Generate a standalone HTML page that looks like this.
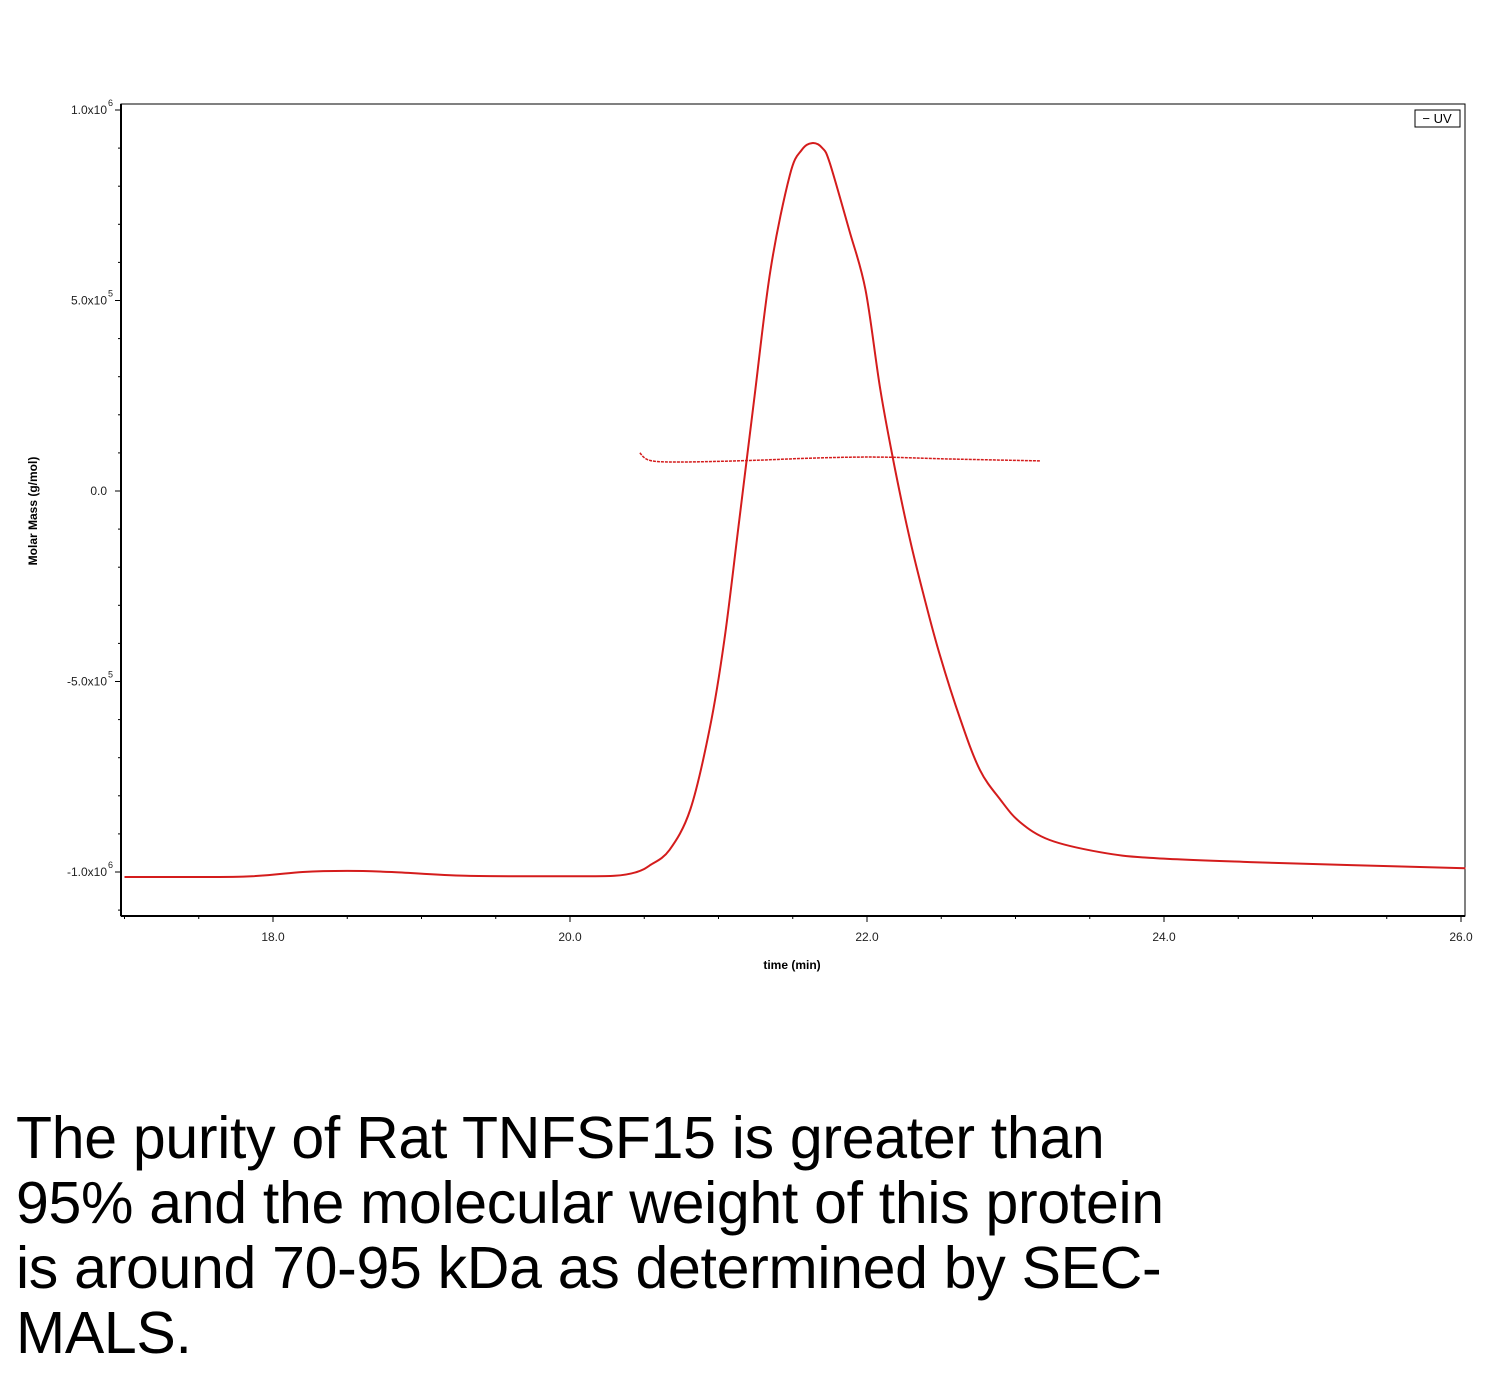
<!DOCTYPE html>
<html><head><meta charset="utf-8"><style>
body{margin:0;background:#fff;width:1500px;height:1384px;overflow:hidden;position:relative;font-family:"Liberation Sans",sans-serif}
#cap{position:absolute;left:16px;top:1106px;font-size:59px;line-height:65px;white-space:nowrap;color:#000;letter-spacing:-0.3px}
</style></head><body>
<svg id="chart" width="1500" height="1000" style="position:absolute;left:0;top:0">
<g id="axes"></g><g id="series"></g>
<rect x="1415" y="110" width="45" height="17" fill="#fff" stroke="#000" stroke-width="1"/>
<text x="1437" y="123" font-size="13" text-anchor="middle">− UV</text>
<text x="792" y="969" font-size="12" font-weight="bold" text-anchor="middle">time (min)</text>
<text transform="translate(37,511) rotate(-90)" font-size="12" font-weight="bold" text-anchor="middle">Molar Mass (g/mol)</text>
</svg>
<div id="cap">The purity of Rat TNFSF15 is greater than<br>95% and the molecular weight of this protein<br>is around 70-95 kDa as determined by SEC-<br>MALS.</div>
<script>
const xTicks=[18,20,22,24,26];
const xTickLabels=["18.0","20.0","22.0","24.0","26.0"];
const yTicks=[1,0.5,0,-0.5,-1];
const yTickLabels=["1.0x10","5.0x10","0.0","-5.0x10","-1.0x10"];
const yTickExp=["6","5","","5","6"];
const uvTime=[17.0,17.8,18.2,18.5,18.8,19.3,20.0,20.3,20.45,20.54,20.67,20.81,20.94,21.04,21.14,21.24,21.35,21.48,21.56,21.63,21.70,21.75,21.88,21.99,22.09,22.19,22.29,22.39,22.49,22.63,22.76,22.90,23.03,23.23,23.57,23.91,24.58,25.26,26.03];
const uvValue=[-1.013,-1.012,-1.0,-0.997,-1.0,-1.01,-1.011,-1.01,-1.0,-0.982,-0.942,-0.836,-0.625,-0.39,-0.076,0.239,0.58,0.829,0.895,0.913,0.9,0.86,0.685,0.528,0.265,0.055,-0.129,-0.286,-0.43,-0.601,-0.732,-0.811,-0.869,-0.916,-0.948,-0.963,-0.974,-0.982,-0.99];
const mmTime=[20.47,20.54,20.74,21.21,21.68,22.09,22.56,23.17];
const mmValue=[0.1,0.08,0.076,0.08,0.087,0.089,0.084,0.079];
const NS="http://www.w3.org/2000/svg";
const L=121,R=1465,T=104,B=916;
const xs=t=>273+(t-18)*148.5;
const ys=v=>491-v*381;
function mk(tag,attrs,parent){const e=document.createElementNS(NS,tag);for(const k in attrs)e.setAttribute(k,attrs[k]);parent.appendChild(e);return e;}
const ax=document.getElementById('axes'),se=document.getElementById('series');
const frame=mk('rect',{x:L,y:T,width:R-L,height:B-T,fill:'none',stroke:'#000','stroke-width':1},ax);


mk('line',{x1:L,y1:T,x2:L,y2:B,stroke:'#000','stroke-width':2},ax);
mk('line',{x1:L,y1:B,x2:R,y2:B,stroke:'#000','stroke-width':2},ax);
for(let t=17;t<=26.01;t+=0.5){const x=xs(t);const maj=Math.abs(t-Math.round(t/2)*2)<1e-6;mk('line',{x1:x,y1:B,x2:x,y2:B+(maj?6:3),stroke:'#000'},ax);}
xTicks.forEach((t,i)=>{const e=mk('text',{x:xs(t),y:B+25,'font-size':12,'text-anchor':'middle',fill:'#222'},ax);e.textContent=xTickLabels[i];

});
for(let v=-1.1;v<=1.001;v+=0.1){const y=ys(v);const maj=Math.abs(v*2-Math.round(v*2))<1e-6;mk('line',{x1:L-(maj?6:3),y1:y,x2:L,y2:y,stroke:'#000'},ax);}
yTicks.forEach((v,i)=>{const e=mk('text',{x:L-14,y:ys(v)+4,'font-size':12,'text-anchor':'end',fill:'#222'},ax);e.textContent=yTickLabels[i];


if(yTickExp[i]){const s=mk('text',{x:L-13,y:ys(v)-4,'font-size':9,fill:'#222'},ax);s.textContent=yTickExp[i];}});
function path(ts,vs){
  const p=ts.map((t,i)=>[xs(t),ys(vs[i])]);
  let d='M'+p[0][0].toFixed(1)+' '+p[0][1].toFixed(1);
  for(let i=0;i<p.length-1;i++){
    const p0=p[Math.max(0,i-1)],p1=p[i],p2=p[i+1],p3=p[Math.min(p.length-1,i+2)];
    const c1=[p1[0]+(p2[0]-p0[0])/6,p1[1]+(p2[1]-p0[1])/6];
    const c2=[p2[0]-(p3[0]-p1[0])/6,p2[1]-(p3[1]-p1[1])/6];
    d+=' C'+c1.map(n=>n.toFixed(1)).join(' ')+' '+c2.map(n=>n.toFixed(1)).join(' ')+' '+p2.map(n=>n.toFixed(1)).join(' ');
  }
  return d;
}
const uv=mk('path',{d:path(uvTime,uvValue),fill:'none',stroke:'#d41c1c','stroke-width':2,'stroke-linejoin':'round'},se);


const mm=mk('path',{d:path(mmTime,mmValue),fill:'none',stroke:'#d41c1c','stroke-width':1.5,'stroke-dasharray':'3 1'},se);


</script>
</body></html>
